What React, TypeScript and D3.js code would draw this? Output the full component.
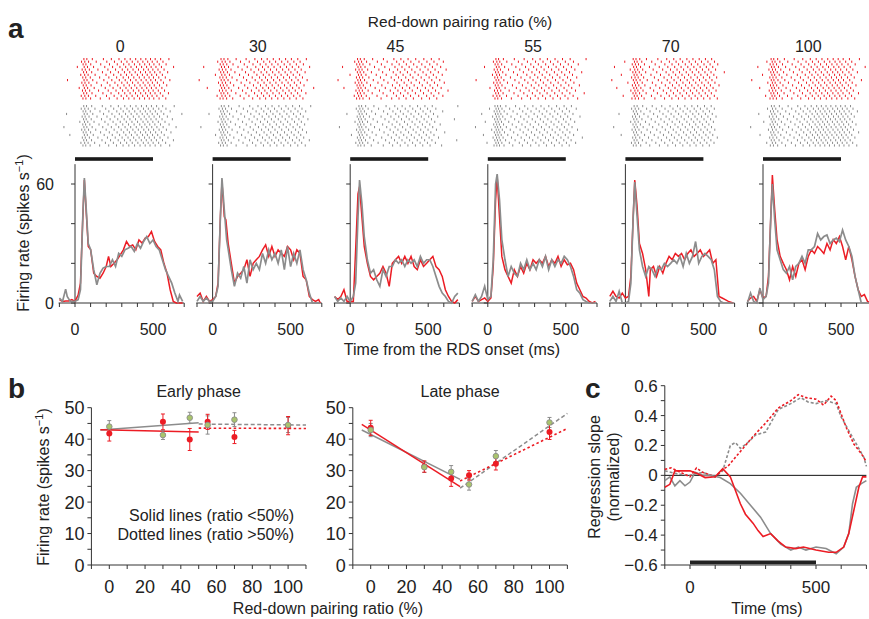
import React from 'react'
import * as d3 from 'd3'

const RED = '#ec1c24'
const GRAY = '#8c8c8c'
const GREEN = '#a9c46c'
const FONT = '"Liberation Sans", Arial, Helvetica, sans-serif'

// ---- panel a: PSTHs, [time ms, rate spikes/s] ----
const ratioLabels = ['0', '30', '45', '55', '70', '100']

const psthRed0 = [[-100,1.7],[-80,0.8],[-60,1],[-40,1],[-20,1.7],[0,0.8],[20,4],[35,10],[50,43],[60,62],[70,48.5],[85,28.5],[100,27],[120,15],[140,13.4],[160,12.5],[180,15],[200,18.4],[215,23.5],[230,18.4],[250,20],[270,21.8],[290,24.3],[310,26.8],[330,31],[350,28.5],[370,29.3],[390,26.8],[410,31.8],[430,30.2],[450,32.7],[470,33.5],[490,36],[510,31],[530,28.5],[550,26.8],[570,20],[590,15],[610,6.7],[630,0.8],[650,0],[670,0],[690,0]]
const psthGray0 = [[-100,2.5],[-80,0.8],[-60,7],[-50,3.3],[-30,0.8],[0,0.8],[20,1.7],[35,6.7],[50,43.5],[60,63],[70,50],[85,30],[100,27],[120,16.8],[140,9.2],[160,15],[180,17.6],[200,18.4],[220,18.4],[240,21.8],[260,18.4],[280,25],[300,23.5],[320,26.8],[340,27.6],[360,28.5],[380,26],[400,30],[420,27.6],[440,31],[460,33.5],[480,30],[500,31.8],[520,28.5],[540,26.8],[560,21.8],[580,16.8],[600,13.4],[620,10],[640,5],[660,0.8],[670,4],[690,0.8]]
const psthRed30 = [[-100,3.3],[-80,5],[-60,0.8],[-40,3.3],[-20,0.8],[0,1.7],[20,3.3],[35,10],[50,43.5],[60,61],[75,43.5],[85,42],[100,30],[120,20],[140,10],[160,13.4],[180,15],[200,16.8],[220,21.8],[240,13.4],[260,20],[280,21.8],[300,23.5],[320,26.8],[340,29.3],[360,23.5],[380,28.5],[400,23.5],[420,26.8],[440,25],[460,23.5],[480,28.5],[500,26.8],[520,21.8],[540,26.8],[560,25],[580,13.4],[600,11.7],[620,3.3],[640,1.7],[660,0.8],[680,1.7],[690,0]]
const psthGray30 = [[-100,0.8],[-80,3.3],[-60,0.8],[-40,2.5],[-20,0.8],[0,0.8],[20,3.3],[35,8.4],[50,43.5],[60,63],[75,47],[90,32],[100,27],[120,16.8],[140,8.4],[160,15],[180,12.5],[200,18.4],[220,10],[240,21.8],[260,16.8],[280,20],[300,16.8],[320,25],[340,20],[360,26.8],[380,21.8],[400,25],[420,20],[440,26.8],[460,16.8],[480,28.5],[500,18.4],[520,25],[540,20],[560,26.8],[580,16.8],[600,11.7],[620,5],[640,0],[660,0],[690,0]]
const psthRed45 = [[-100,3.3],[-80,1.7],[-60,3.3],[-40,6.7],[-20,0.8],[0,0.8],[20,0.8],[35,27],[50,55],[60,58.6],[75,43.5],[90,28.5],[110,20],[130,13.4],[150,11.7],[170,13.4],[190,15],[210,18.4],[230,15],[250,8.4],[270,20],[290,21.8],[310,23.5],[330,20],[350,23.5],[370,20],[390,23.5],[410,18.4],[430,16.8],[450,21.8],[470,18.4],[490,20],[510,21.8],[530,23.5],[550,18.4],[570,16.8],[590,13.4],[610,6.7],[630,3.3],[650,0.8],[670,0],[690,1.7]]
const psthGray45 = [[-100,3.3],[-80,0.8],[-60,2.5],[-40,0.8],[-20,3.3],[0,0.8],[20,3.3],[35,10],[50,43.5],[60,62],[75,50],[90,33.5],[110,21.8],[130,15],[150,16.8],[170,11.7],[190,8.4],[210,16.8],[230,13.4],[250,18.4],[270,18.4],[290,21.8],[310,20],[330,21.8],[350,18.4],[370,21.8],[390,20],[410,21.8],[430,18.4],[450,23.5],[470,20],[490,21.8],[510,21.8],[530,18.4],[550,13.4],[570,8.4],[590,5],[610,3.3],[630,0.8],[650,0],[670,3.3],[690,5]]
const psthRed55 = [[-100,0.8],[-80,3.3],[-60,0.8],[-40,1.7],[-20,2.5],[0,0.8],[20,2.5],[35,18.4],[50,52],[60,63.7],[75,43.5],[90,23.5],[110,16.8],[130,13.4],[150,10],[170,16.8],[190,13.4],[210,18.4],[230,15],[250,20],[270,16.8],[290,21.8],[310,20],[330,21.8],[350,20],[370,23.5],[390,18.4],[410,21.8],[430,20],[450,23.5],[470,18.4],[490,21.8],[510,19.3],[530,20],[550,16.8],[570,10],[590,6.7],[610,3.3],[630,2.5],[650,0.8],[670,0],[690,0.8]]
const psthGray55 = [[-100,0.8],[-80,4.2],[-60,0.8],[-40,3.3],[-20,8.4],[0,1.7],[20,3.3],[35,21.8],[50,60],[60,65],[75,52],[90,32],[110,21.8],[130,13.4],[150,18.4],[170,15],[190,13.4],[210,20],[230,16.8],[250,21.8],[270,16.8],[290,20],[310,16.8],[330,21.8],[350,18.4],[370,23.5],[390,16.8],[410,21.8],[430,18.4],[450,21.8],[470,20],[490,23.5],[510,21.8],[530,18.4],[550,13.4],[570,6.7],[590,5],[610,1.7],[630,0.8],[650,0],[670,0],[690,0]]
const psthRed70 = [[-100,3.3],[-80,5.9],[-60,3.3],[-40,2.5],[-20,5],[0,2.5],[20,3.3],[35,13.4],[50,43.5],[60,62],[75,48.6],[90,30],[110,25],[130,16.8],[150,3.3],[160,16.8],[180,18.4],[200,13.4],[220,18.4],[240,15],[260,20],[280,23.5],[300,21.8],[320,25],[340,23.5],[360,25],[380,21.8],[400,25],[420,26.8],[440,23.5],[460,25],[480,26.8],[500,23.5],[520,25],[540,26.8],[560,20],[580,21.8],[600,3.3],[620,2.5],[640,1.7],[660,0.8],[690,0]]
const psthGray70 = [[-100,0.8],[-80,3.3],[-60,0.8],[-40,5.9],[-20,0],[0,0],[20,0.8],[35,10],[50,43.5],[60,61],[75,43.5],[90,26.8],[110,18.4],[130,13.4],[150,18.4],[170,16.8],[190,13.4],[210,18.4],[230,16.8],[250,20],[270,18.4],[290,20],[310,21.8],[330,20],[350,23.5],[370,18.4],[390,25],[410,20],[430,23.5],[450,31],[470,20],[490,23.5],[510,25],[530,23.5],[550,21.8],[570,16.8],[590,3.3],[610,0.8],[630,0],[650,0],[690,0]]
const psthRed100 = [[-100,0.8],[-80,2.5],[-60,3.3],[-40,0.8],[-20,6.7],[0,2.5],[20,3.3],[35,13.4],[50,43.5],[60,64.5],[75,47],[90,32],[110,23.5],[130,20],[150,16.8],[170,11.7],[190,18.4],[210,13.4],[230,20],[250,21.8],[270,16.8],[290,23.5],[310,26.8],[330,25],[350,28.5],[370,26.8],[390,25],[410,30],[430,26.8],[450,32],[470,30],[490,33.5],[510,28.5],[530,21.8],[550,28.5],[570,21.8],[590,13.4],[610,6.7],[630,3.3],[650,4.2],[670,0.8],[690,0]]
const psthGray100 = [[-100,0],[-80,5],[-60,0.8],[-40,0],[-20,7.5],[0,1.7],[20,3.3],[35,10],[50,43.5],[60,60],[75,42],[90,26.8],[110,21.8],[130,16.8],[150,15],[170,18.4],[190,11.7],[210,18.4],[230,20],[250,23.5],[270,20],[290,26.8],[310,26.8],[330,28.5],[350,35],[370,31.8],[390,33.5],[410,34.3],[430,30],[450,31.8],[470,32.7],[490,31],[510,36.8],[530,31.8],[550,28.5],[570,23.5],[590,13.4],[610,6.7],[630,0],[650,0],[670,0],[690,0]]

const psthRed = [psthRed0, psthRed30, psthRed45, psthRed55, psthRed70, psthRed100]
const psthGray = [psthGray0, psthGray30, psthGray45, psthGray55, psthGray70, psthGray100]

// ---- panel b: mean firing rate +- s.e.m. ----
const ratios = [0, 30, 45, 55, 70, 100]
const earlyRed = [41.8, 45.5, 39.9, 45.5, 40.7, 44.3]
const earlyRedErr = [2.4, 2.5, 3.5, 2.4, 2.1, 2.9]
const earlyGray = [44.0, 41.3, 46.8, 44.5, 46.2, 44.5]
const earlyGrayErr = [1.9, 1.4, 1.75, 2.9, 2.2, 2.4]
const lateRed = [43.6, 31.3, 27.5, 28.5, 32.2, 42.3]
const lateRedErr = [2.4, 1.8, 2.5, 1.5, 2.0, 2.4]
const lateGray = [42.9, 31.1, 29.6, 25.6, 34.6, 45.3]
const lateGrayErr = [2.1, 1.7, 2.0, 1.8, 1.8, 1.6]
// regression fits: [x, y] endpoints
const earlyFitRedLow = [[-5, 43.0], [50, 42.3]]
const earlyFitGrayLow = [[-5, 42.9], [50, 45.2]]
const earlyFitRedHigh = [[50, 43.5], [110, 43.4]]
const earlyFitGrayHigh = [[50, 44.8], [110, 44.5]]
const lateFitRedLow = [[-5, 44.7], [50, 24.9]]
const lateFitGrayLow = [[-5, 42.9], [50, 27.2]]
const lateFitRedHigh = [[50, 26.7], [110, 43.4]]
const lateFitGrayHigh = [[50, 24.4], [110, 48.2]]

// ---- panel c: regression slope time courses ----
const slopeRedDotted = [[-100,0.04],[-75,0.05],[-50,0.03],[0,-0.01],[26,0.05],[50,0.02],[100,-0.01],[130,0.04],[150,0.06],[200,0.16],[250,0.26],[300,0.35],[350,0.45],[400,0.5],[430,0.54],[460,0.52],[500,0.51],[530,0.47],[560,0.53],[580,0.5],[600,0.41],[620,0.32],[650,0.21],[680,0.145],[700,0.09]]
const slopeGrayDotted = [[-100,0.03],[-50,0.01],[0,0],[50,0.02],[100,-0.01],[130,0.03],[160,0.2],[180,0.22],[200,0.18],[230,0.22],[260,0.27],[300,0.29],[350,0.44],[400,0.48],[440,0.52],[470,0.49],[500,0.48],[540,0.5],[580,0.48],[600,0.39],[630,0.3],[660,0.21],[690,0.12],[700,0.06]]
const slopeRedSolid = [[-100,-0.08],[-80,-0.06],[-60,0.03],[-30,0.03],[0,0.03],[30,0.01],[60,-0.015],[100,-0.01],[130,0.045],[160,-0.01],[180,-0.1],[200,-0.19],[220,-0.26],[250,-0.32],[270,-0.37],[290,-0.41],[320,-0.39],[350,-0.44],[380,-0.48],[420,-0.49],[450,-0.48],[500,-0.5],[550,-0.515],[580,-0.515],[610,-0.48],[630,-0.39],[650,-0.235],[670,-0.08],[685,-0.01],[700,-0.01]]
const slopeGraySolid = [[-100,-0.035],[-80,-0.01],[-60,-0.07],[-40,-0.035],[-20,-0.07],[0,-0.045],[20,0.02],[50,0],[80,0],[120,-0.015],[160,-0.055],[200,-0.12],[240,-0.2],[280,-0.28],[320,-0.39],[360,-0.46],[400,-0.5],[430,-0.48],[460,-0.5],[500,-0.48],[540,-0.49],[580,-0.525],[610,-0.48],[630,-0.39],[645,-0.19],[660,-0.08],[680,-0.055],[700,-0.035]]

const slopeTicks = [0.6, 0.4, 0.2, 0, -0.2, -0.4, -0.6]

// spike rasters are not readable spike by spike, so each trial row is
// rebuilt from the PSTH read above (a spike each time the integrated rate
// passes a whole count, trials staggered in phase)
function rasterRow(curve: number[][], trial: number) {
  const rate = d3.scaleLinear().domain(curve.map(d => d[0])).range(curve.map(d => d[1])).clamp(true)
  const out: number[] = []
  let acc = (trial * 0.618034) % 1
  for (let t = -100; t <= 690; t++) {
    acc += rate(t) * 0.001
    if (acc >= 1) {
      out.push(t)
      acc -= 1
    }
  }
  return out
}

const nTrials = 16
const rowH = 42 / nTrials

function PsthPanel({ i }: { i: number }) {
  const x0 = 75 + i * 137.6
  const x = d3.scaleLinear().domain([0, 500]).range([x0, x0 + 78])
  const y = d3.scaleLinear().domain([0, 60]).range([303, 184])
  const line = d3.line<number[]>().x(d => x(d[0])).y(d => y(d[1]))
  const xt = d3.range(-100, 701, 100)
  return (
    <g>
      <text x={x(290)} y={52} textAnchor="middle" fontSize={16}>{ratioLabels[i]}</text>
      {[psthRed[i], psthGray[i]].map((c, ci) =>
        d3.range(nTrials).map(k => (
          <g key={ci + '-' + k}>
            {rasterRow(c, k).map((t, j) => (
              <line key={j} x1={x(t)} x2={x(t)} y1={(ci ? 105 : 58) + k * rowH} y2={(ci ? 105 : 58) + k * rowH + 2.2}
                stroke={ci ? GRAY : RED} strokeWidth={1} />
            ))}
          </g>
        ))
      )}
      <rect x={x(0)} y={157.2} width={x(500) - x(0)} height={3.6} fill="#1a1a1a" />
      <line x1={x(0)} x2={x(0)} y1={y(0)} y2={y(70)} stroke="#333" strokeWidth={1} />
      {[0, 20, 40, 60].map(v => (
        <line key={v} x1={x(0) - 4} x2={x(0)} y1={y(v)} y2={y(v)} stroke="#333" />
      ))}
      <line x1={x(-105)} x2={x(700)} y1={y(0)} y2={y(0)} stroke="#333" strokeWidth={1} />
      {xt.map(v => (
        <line key={v} x1={x(v)} x2={x(v)} y1={y(0)} y2={y(0) + 4} stroke="#333" />
      ))}
      <path d={line(psthRed[i]) || ''} fill="none" stroke={RED} strokeWidth={1.5} />
      <path d={line(psthGray[i]) || ''} fill="none" stroke={GRAY} strokeWidth={1.7} />
      {[0, 500].map(v => (
        <text key={v} x={x(v)} y={335} textAnchor="middle" fontSize={16}>{v}</text>
      ))}
      {i === 0 && (
        <g fontSize={16} textAnchor="end">
          <text x={54} y={y(60) + 6}>60</text>
          <text x={54} y={y(0) + 6}>0</text>
        </g>
      )}
    </g>
  )
}

function RatePanel({ left, title, red, redErr, gray, grayErr, fits, showNote }: any) {
  const x = d3.scaleLinear().domain([0, 100]).range([left, left + 178.8])
  const y = d3.scaleLinear().domain([0, 50]).range([565, 407.7])
  const line = d3.line<number[]>().x(d => x(d[0])).y(d => y(d[1]))
  return (
    <g>
      <text x={x(50)} y={397} textAnchor="middle" fontSize={16}>{title}</text>
      <line x1={x(-10)} x2={x(-10)} y1={y(0)} y2={y(50)} stroke="#333" />
      <line x1={x(-10)} x2={x(110)} y1={y(0)} y2={y(0)} stroke="#333" />
      {d3.range(0, 51, 5).map(v => (
        <line key={v} x1={x(-10) - 4} x2={x(-10)} y1={y(v)} y2={y(v)} stroke="#333" />
      ))}
      {d3.range(-10, 111, 10).map(v => (
        <line key={v} x1={x(v)} x2={x(v)} y1={y(0)} y2={y(0) + 4} stroke="#333" />
      ))}
      {d3.range(0, 51, 10).map(v => (
        <text key={v} x={x(-10) - 7} y={y(v) + 6.5} textAnchor="end" fontSize={18}>{v}</text>
      ))}
      {d3.range(0, 101, 20).map(v => (
        <text key={v} x={x(v)} y={593} textAnchor="middle" fontSize={18}>{v}</text>
      ))}
      <path d={line(fits[0]) || ''} stroke={GRAY} strokeWidth={1.5} fill="none" />
      <path d={line(fits[1]) || ''} stroke={RED} strokeWidth={1.5} fill="none" />
      <path d={line(fits[2]) || ''} stroke={GRAY} strokeWidth={1.5} fill="none" strokeDasharray="4,2.5" />
      <path d={line(fits[3]) || ''} stroke={RED} strokeWidth={1.6} fill="none" strokeDasharray="2.5,2.5" />
      {ratios.map((r, j) => (
        <g key={'g' + j} stroke={GRAY}>
          <line x1={x(r)} x2={x(r)} y1={y(gray[j] - grayErr[j])} y2={y(gray[j] + grayErr[j])} />
          <line x1={x(r) - 2} x2={x(r) + 2} y1={y(gray[j] - grayErr[j])} y2={y(gray[j] - grayErr[j])} />
          <line x1={x(r) - 2} x2={x(r) + 2} y1={y(gray[j] + grayErr[j])} y2={y(gray[j] + grayErr[j])} />
        </g>
      ))}
      {ratios.map((r, j) => (
        <g key={'r' + j} stroke={RED}>
          <line x1={x(r)} x2={x(r)} y1={y(red[j] - redErr[j])} y2={y(red[j] + redErr[j])} />
          <line x1={x(r) - 2} x2={x(r) + 2} y1={y(red[j] - redErr[j])} y2={y(red[j] - redErr[j])} />
          <line x1={x(r) - 2} x2={x(r) + 2} y1={y(red[j] + redErr[j])} y2={y(red[j] + redErr[j])} />
        </g>
      ))}
      {ratios.map((r, j) => (
        <circle key={'rc' + j} cx={x(r)} cy={y(red[j])} r={3} fill={RED} />
      ))}
      {ratios.map((r, j) => (
        <circle key={'gc' + j} cx={x(r)} cy={y(gray[j])} r={2.8} fill={GREEN} stroke={GRAY} strokeWidth={0.9} />
      ))}
      {showNote && (
        <g fontSize={16} textAnchor="end">
          <text x={294} y={521}>Solid lines (ratio &lt;50%)</text>
          <text x={294} y={540}>Dotted lines (ratio &gt;50%)</text>
        </g>
      )}
    </g>
  )
}

function SlopePanel() {
  const x = d3.scaleLinear().domain([0, 500]).range([690, 816])
  const y = d3.scaleLinear().domain([-0.6, 0.6]).range([565, 385.7])
  const line = d3.line<number[]>().x(d => x(d[0])).y(d => y(d[1]))
  const fmt = (v: number) => (v < 0 ? '\u2212' + Math.abs(v).toFixed(1) : v === 0 ? '0' : v.toFixed(1))
  return (
    <g>
      <line x1={x(-100)} x2={x(-100)} y1={y(-0.6)} y2={y(0.6)} stroke="#333" />
      <line x1={x(-100)} x2={x(700)} y1={y(-0.6)} y2={y(-0.6)} stroke="#333" />
      {d3.range(-6, 7).map(k => (
        <line key={k} x1={x(-100) - 4} x2={x(-100)} y1={y(k / 10)} y2={y(k / 10)} stroke="#333" />
      ))}
      {d3.range(-100, 701, 100).map(v => (
        <line key={v} x1={x(v)} x2={x(v)} y1={y(-0.6)} y2={y(-0.6) + 4} stroke="#333" />
      ))}
      {slopeTicks.map(v => (
        <text key={v} x={x(-100) - 7} y={y(v) + 6} textAnchor="end" fontSize={17}>{fmt(v)}</text>
      ))}
      {[0, 500].map(v => (
        <text key={v} x={x(v)} y={593} textAnchor="middle" fontSize={17}>{v}</text>
      ))}
      <line x1={x(-100)} x2={x(700)} y1={y(0)} y2={y(0)} stroke="#111" strokeWidth={1} />
      <rect x={x(0)} y={560.5} width={x(500) - x(0)} height={3.8} fill="#222" />
      <path d={line(slopeGrayDotted) || ''} fill="none" stroke={GRAY} strokeWidth={1.6} strokeDasharray="3,2" />
      <path d={line(slopeRedDotted) || ''} fill="none" stroke={RED} strokeWidth={1.6} strokeDasharray="2.5,2" />
      <path d={line(slopeGraySolid) || ''} fill="none" stroke={GRAY} strokeWidth={1.6} />
      <path d={line(slopeRedSolid) || ''} fill="none" stroke={RED} strokeWidth={1.6} />
      <text x={767} y={614} textAnchor="middle" fontSize={16}>Time (ms)</text>
      <text transform="translate(600,477) rotate(-90)" textAnchor="middle" fontSize={16}>Regression slope</text>
      <text transform="translate(619,477) rotate(-90)" textAnchor="middle" fontSize={16}>(normalized)</text>
    </g>
  )
}

export default function App() {
  return (
    <svg width={869} height={619} style={{ position: 'absolute', left: 0, top: 0, background: '#fff' }}
      fontFamily={FONT} fill="#222">
      <text x={8} y={38} fontSize={28} fontWeight="bold">a</text>
      <text x={460} y={27} textAnchor="middle" fontSize={15.5}>Red-down pairing ratio (%)</text>
      {d3.range(6).map(i => <PsthPanel key={i} i={i} />)}
      <text x={452} y={355} textAnchor="middle" fontSize={16}>Time from the RDS onset (ms)</text>
      <text transform="translate(29,233) rotate(-90)" textAnchor="middle" fontSize={16}>
        Firing rate (spikes s<tspan dy={-6} fontSize={11}>{'\u22121'}</tspan><tspan dy={6}>)</tspan>
      </text>

      <text x={8} y={398} fontSize={28} fontWeight="bold">b</text>
      <RatePanel left={109.3} title="Early phase" red={earlyRed} redErr={earlyRedErr} gray={earlyGray} grayErr={earlyGrayErr}
        fits={[earlyFitGrayLow, earlyFitRedLow, earlyFitGrayHigh, earlyFitRedHigh]} showNote />
      <RatePanel left={370.7} title="Late phase" red={lateRed} redErr={lateRedErr} gray={lateGray} grayErr={lateGrayErr}
        fits={[lateFitGrayLow, lateFitRedLow, lateFitGrayHigh, lateFitRedHigh]} />
      <text transform="translate(49,487) rotate(-90)" textAnchor="middle" fontSize={16}>
        Firing rate (spikes s<tspan dy={-6} fontSize={11}>{'\u22121'}</tspan><tspan dy={6}>)</tspan>
      </text>
      <text x={328} y={614} textAnchor="middle" fontSize={16}>Red-down pairing ratio (%)</text>

      <text x={585} y={398} fontSize={28} fontWeight="bold">c</text>
      <SlopePanel />
    </svg>
  )
}
